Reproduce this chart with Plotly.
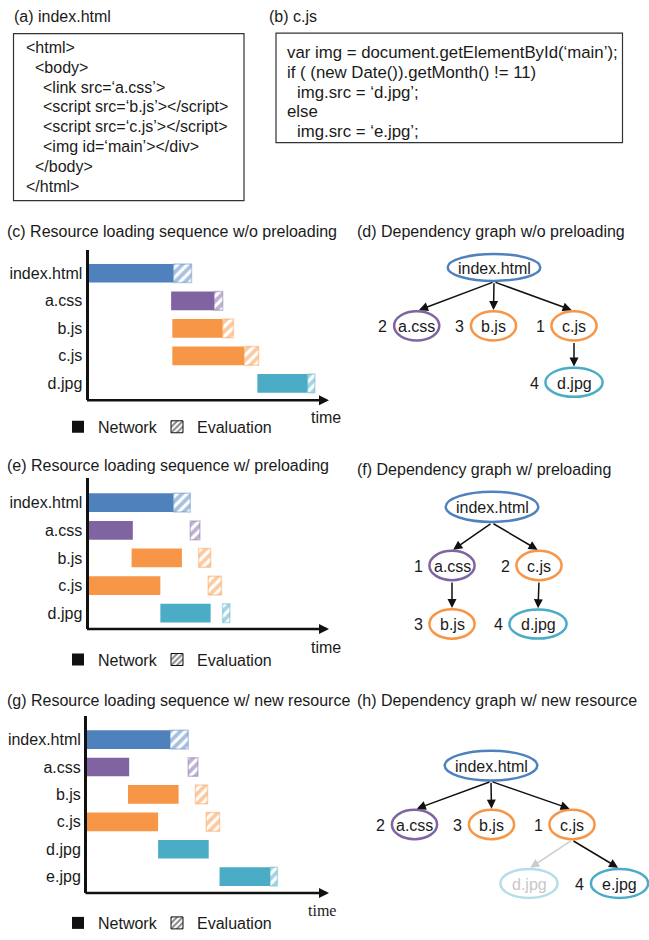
import plotly.graph_objects as go

W, H = 649, 940
FONT = "Liberation Sans, Arial, sans-serif"
SERIF = "Liberation Serif, Times New Roman, serif"
INK = "#1a1a1a"


def fx(px):
    return px / W


def fy(py):
    return 1 - py / H


# ---------------------------------------------------------------- data
RES_COLOR = {
    "index.html": "#4F81BD",
    "a.css": "#8064A2",
    "b.js": "#F79646",
    "c.js": "#F79646",
    "d.jpg": "#4BACC6",
    "e.jpg": "#4BACC6",
}

# source listings
index_html_lines = [
    "&lt;html&gt;",
    "&lt;body&gt;",
    "&lt;link src=‘a.css’&gt;",
    "&lt;script src=‘b.js’&gt;&lt;/script&gt;",
    "&lt;script src=‘c.js’&gt;&lt;/script&gt;",
    "&lt;img id=‘main’&gt;&lt;/div&gt;",
    "&lt;/body&gt;",
    "&lt;/html&gt;",
]
index_html_indent = [0, 1, 2, 2, 2, 2, 1, 0]

c_js_lines = [
    "var img = document.getElementById(‘main’);",
    "if ( (new Date()).getMonth() != 11)",
    "img.src = ‘d.jpg’;",
    "else",
    "img.src = ‘e.jpg’;",
]
c_js_indent = [0, 0, 1, 0, 1]

# (c) loading sequence without preloading (time units)
seq_c_resources = ["index.html", "a.css", "b.js", "c.js", "d.jpg"]
seq_c_net_start = [0, 34.5, 35, 35, 70.5]
seq_c_net_end = [35.5, 52.5, 56, 65, 91.5]
seq_c_eval_start = [35.5, 52.5, 56, 65, 91.5]
seq_c_eval_end = [43, 56, 60.5, 71, 94.5]

# (e) loading sequence with preloading
seq_e_resources = ["index.html", "a.css", "b.js", "c.js", "d.jpg"]
seq_e_net_start = [0, 0, 18, 0, 30]
seq_e_net_end = [35.5, 18.5, 39, 30, 51]
seq_e_eval_start = [35.5, 42.5, 46, 50, 56]
seq_e_eval_end = [42.5, 46.5, 51, 55.5, 59]

# (g) loading sequence with a new resource
seq_g_resources = ["index.html", "a.css", "b.js", "c.js", "d.jpg", "e.jpg"]
seq_g_net_start = [0, 0, 17, 0, 29.5, 55]
seq_g_net_end = [34.5, 17.5, 38, 29.5, 50.5, 76]
seq_g_eval_start = [34.5, 42, 45, 49.5, None, 76]
seq_g_eval_end = [42, 46, 50, 55, None, 79]

# dependency graphs: nodes, load order labels, edges
graph_d_nodes = ["index.html", "a.css", "b.js", "c.js", "d.jpg"]
graph_d_order = ["", "2", "3", "1", "4"]
graph_d_edges = [("index.html", "a.css"), ("index.html", "b.js"),
                 ("index.html", "c.js"), ("c.js", "d.jpg")]

graph_f_nodes = ["index.html", "a.css", "c.js", "b.js", "d.jpg"]
graph_f_order = ["", "1", "2", "3", "4"]
graph_f_edges = [("index.html", "a.css"), ("index.html", "c.js"),
                 ("a.css", "b.js"), ("c.js", "d.jpg")]

graph_h_nodes = ["index.html", "a.css", "b.js", "c.js", "d.jpg", "e.jpg"]
graph_h_order = ["", "2", "3", "1", "", "4"]
graph_h_edges = [("index.html", "a.css"), ("index.html", "b.js"),
                 ("index.html", "c.js"), ("c.js", "d.jpg"), ("c.js", "e.jpg")]
graph_h_unused = ["d.jpg"]

# ---------------------------------------------------------------- layout geometry (px)
SEQ_PANELS = [
    dict(res=seq_c_resources, ns=seq_c_net_start, ne=seq_c_net_end,
         es=seq_c_eval_start, ee=seq_c_eval_end, ax="", legend="legend",
         x0=88.5, x1=328, top=252, bottom=404, yr=[4.61, -0.86],
         leg_y=431, time=(326, 422), time_font=FONT),
    dict(res=seq_e_resources, ns=seq_e_net_start, ne=seq_e_net_end,
         es=seq_e_eval_start, ee=seq_e_eval_end, ax="2", legend="legend2",
         x0=88.5, x1=328, top=483, bottom=635, yr=[4.57, -0.88],
         leg_y=666, time=(326, 654), time_font=FONT),
    dict(res=seq_g_resources, ns=seq_g_net_start, ne=seq_g_net_end,
         es=seq_g_eval_start, ee=seq_g_eval_end, ax="3", legend="legend3",
         x0=87, x1=328, top=722.7, bottom=901.7, yr=[5.6, -0.87],
         leg_y=932, time=(322, 919), time_font=SERIF),
]

GRAPHS = [
    dict(nodes=graph_d_nodes, order=graph_d_order, edges=graph_d_edges, unused=[],
         pos={"index.html": (494, 270), "a.css": (416.7, 329), "b.js": (493.5, 329),
              "c.js": (574, 329), "d.jpg": (574, 386)}, root_ry=13.6),
    dict(nodes=graph_f_nodes, order=graph_f_order, edges=graph_f_edges, unused=[],
         pos={"index.html": (492, 511.7), "a.css": (452, 571), "c.js": (539, 571),
              "b.js": (452, 630), "d.jpg": (538, 630)}, root_ry=15.3),
    dict(nodes=graph_h_nodes, order=graph_h_order, edges=graph_h_edges,
         unused=graph_h_unused,
         pos={"index.html": (491, 773), "a.css": (414.5, 832.5), "b.js": (491.5, 832.5),
              "c.js": (572, 832.5), "d.jpg": (529, 892), "e.jpg": (619.5, 892)},
         root_ry=15.0),
]


def node_radius(name, root_ry):
    if name == "index.html":
        return 46.3, root_ry
    if name.endswith(".jpg"):
        return 28.6, 14.7
    return 22.6, 14.8


def rgba(hex_color, a):
    h = hex_color.lstrip("#")
    r, g, b = int(h[0:2], 16), int(h[2:4], 16), int(h[4:6], 16)
    return f"rgba({r},{g},{b},{a})"


fig = go.Figure()
shapes = []
annotations = []
layout_axes = {}

# ---------------------------------------------------------------- loading sequences
for p in SEQ_PANELS:
    xa, ya = "x" + p["ax"], "y" + p["ax"]
    res = p["res"]
    cols = [RES_COLOR[r] for r in res]

    fig.add_trace(go.Bar(
        orientation="h", y=res,
        x=[e - s for s, e in zip(p["ns"], p["ne"])], base=p["ns"],
        width=0.68, marker=dict(color=cols, line=dict(width=0)),
        xaxis=xa, yaxis=ya, showlegend=False, hoverinfo="skip"))

    ev_y = [r for r, s in zip(res, p["es"]) if s is not None]
    ev_s = [s for s in p["es"] if s is not None]
    ev_len = [e - s for s, e in zip(p["es"], p["ee"]) if s is not None]
    ev_col = [RES_COLOR[r] for r in ev_y]
    fig.add_trace(go.Bar(
        orientation="h", y=ev_y, x=ev_len, base=ev_s, width=0.68,
        marker=dict(color="white",
                    line=dict(color=[rgba(c, 0.4) for c in ev_col], width=1.5),
                    pattern=dict(shape="/", fgcolor=ev_col, bgcolor="white",
                                 size=7, solidity=0.55)),
        xaxis=xa, yaxis=ya, showlegend=False, hoverinfo="skip"))

    # legend entries
    fig.add_trace(go.Bar(
        orientation="h", x=[None], y=[None], name="Network", legendwidth=54,
        marker=dict(color="#111111", line=dict(width=0)),
        xaxis=xa, yaxis=ya, legend=p["legend"], showlegend=True))
    fig.add_trace(go.Bar(
        orientation="h", x=[None], y=[None], name="Evaluation", legendwidth=80,
        marker=dict(color="white", line=dict(color="#111111", width=1),
                    pattern=dict(shape="/", fgcolor="#111111", bgcolor="white",
                                 size=5, solidity=0.5)),
        xaxis=xa, yaxis=ya, legend=p["legend"], showlegend=True))

    xkey = "xaxis" + p["ax"]
    ykey = "yaxis" + p["ax"]
    layout_axes[xkey] = dict(domain=[fx(p["x0"]), fx(p["x1"])], range=[0, 100],
                             anchor=ya, visible=False, fixedrange=True)
    layout_axes[ykey] = dict(domain=[fy(p["bottom"]), fy(p["top"])], anchor=xa,
                             type="category", categoryorder="array",
                             categoryarray=res, range=p["yr"],
                             showline=True, linewidth=3, linecolor="#111111",
                             showgrid=False, zeroline=False, ticks="",
                             ticklabelstandoff=0,
                             tickfont=dict(family=FONT, size=16, color=INK))
    layout_axes[p["legend"]] = dict(
        orientation="h", x=fx(58), xanchor="left", y=fy(p["leg_y"]), yanchor="middle",
        font=dict(family=FONT, size=16, color=INK), bgcolor="rgba(0,0,0,0)",
        itemwidth=30, traceorder="normal")

    # time axis with arrow head
    tip = p["x1"] + 1
    annotations.append(dict(
        x=fx(tip), y=fy(p["bottom"]), xref="paper", yref="paper",
        ax=-(tip - p["x0"] + 3), ay=0, text="", showarrow=True,
        arrowhead=2, arrowsize=0.8, arrowwidth=2.5, arrowcolor="#111111"))
    annotations.append(dict(
        x=fx(p["time"][0]), y=fy(p["time"][1]), xref="paper", yref="paper",
        text="time", showarrow=False, xanchor="center", yanchor="middle",
        font=dict(family=p["time_font"], size=16, color=INK)))

# ---------------------------------------------------------------- dependency graphs
for g in GRAPHS:
    for name, order in zip(g["nodes"], g["order"]):
        cx, cy = g["pos"][name]
        rx, ry = node_radius(name, g["root_ry"])
        faded = name in g["unused"]
        line_col = "#B7DDE8" if faded else RES_COLOR[name]
        shapes.append(dict(type="circle", xref="paper", yref="paper",
                           x0=fx(cx - rx), x1=fx(cx + rx),
                           y0=fy(cy + ry), y1=fy(cy - ry),
                           line=dict(color=line_col, width=2.5),
                           fillcolor="rgba(0,0,0,0)"))
        annotations.append(dict(
            x=fx(cx), y=fy(cy + 1), xref="paper", yref="paper", text=name,
            showarrow=False, xanchor="center", yanchor="middle",
            font=dict(family=FONT, size=16, color="#C8C8C8" if faded else INK)))
        if order:
            annotations.append(dict(
                x=fx(cx - rx - 11.2), y=fy(cy + 1), xref="paper", yref="paper",
                text=order, showarrow=False, xanchor="center", yanchor="middle",
                font=dict(family=FONT, size=16, color=INK)))
    for src, dst in g["edges"]:
        sx, sy = g["pos"][src]
        _, sry = node_radius(src, g["root_ry"])
        dx, dy = g["pos"][dst]
        _, dry = node_radius(dst, g["root_ry"])
        tail = (sx, sy + sry + 1.2)
        head = (dx + 0.03 * (sx - dx), dy - dry - 1.2)
        faded = dst in g["unused"]
        annotations.append(dict(
            x=fx(head[0]), y=fy(head[1]), xref="paper", yref="paper",
            ax=tail[0] - head[0], ay=tail[1] - head[1], text="", showarrow=True,
            arrowhead=2, arrowsize=1.2, arrowwidth=1.5,
            arrowcolor="#CCCCCC" if faded else "#111111"))

# ---------------------------------------------------------------- code listings
shapes.append(dict(type="rect", xref="paper", yref="paper",
                   x0=fx(13.5), x1=fx(244), y0=fy(202.5), y1=fy(34),
                   line=dict(color="#333333", width=1.2)))
for i, (line, ind) in enumerate(zip(index_html_lines, index_html_indent)):
    annotations.append(dict(
        x=fx(24 + 8.5 * ind), y=fy(48 + 20.0 * i), xref="paper", yref="paper",
        text=line, showarrow=False, xanchor="left", yanchor="middle",
        font=dict(family=FONT, size=16, color=INK)))

shapes.append(dict(type="rect", xref="paper", yref="paper",
                   x0=fx(276), x1=fx(622.5), y0=fy(144), y1=fy(33.5),
                   line=dict(color="#333333", width=1.2)))
for i, (line, ind) in enumerate(zip(c_js_lines, c_js_indent)):
    annotations.append(dict(
        x=fx(285 + 10 * ind), y=fy(53 + 20 * i), xref="paper", yref="paper",
        text=line, showarrow=False, xanchor="left", yanchor="middle",
        font=dict(family=FONT, size=16.8, color=INK)))

# ---------------------------------------------------------------- panel titles
TITLES = [
    ("(a) index.html", 12, 17),
    ("(b) c.js", 267, 17),
    ("(c) Resource loading sequence w/o preloading", 5, 234),
    ("(d) Dependency graph w/o preloading", 355, 234),
    ("(e) Resource loading sequence w/ preloading", 5, 470),
    ("(f) Dependency graph w/ preloading", 355, 474),
    ("(g) Resource loading sequence w/ new resource", 5, 707),
    ("(h) Dependency graph w/ new resource", 355, 707),
]
for text, x, y in TITLES:
    annotations.append(dict(
        x=fx(x), y=fy(y), xref="paper", yref="paper", text=text,
        showarrow=False, xanchor="left", yanchor="middle",
        font=dict(family=FONT, size=16, color=INK)))

fig.update_layout(
    width=W, height=H, margin=dict(l=0, r=0, t=0, b=0),
    paper_bgcolor="white", plot_bgcolor="white",
    barmode="overlay", showlegend=True,
    shapes=shapes, annotations=annotations,
    font=dict(family=FONT, size=16, color=INK),
    **layout_axes,
)

fig.write_html("out.html")
